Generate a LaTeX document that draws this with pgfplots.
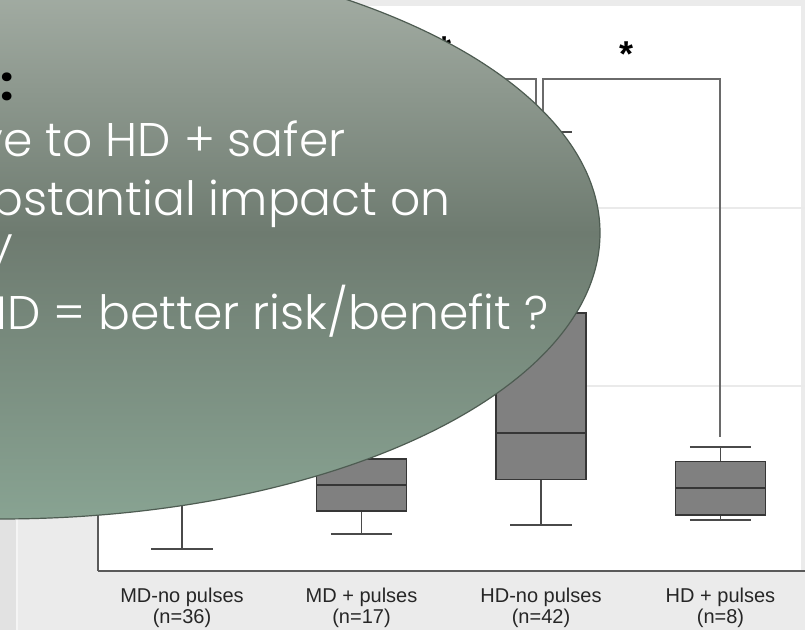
\documentclass[border=0pt]{standalone}
\usepackage{pgfplots}
\pgfplotsset{compat=1.18}
\usepgfplotslibrary{statistics}
\usepackage{fontspec}
\setmainfont{Liberation Sans}
\newfontfamily\slidefont{Poppins Light}
\newfontfamily\slidebold{Poppins}

\definecolor{pagegray}{HTML}{EBEBEB}
\definecolor{stripgray}{HTML}{E2E2E2}
\definecolor{gridgray}{HTML}{EAEAEA}
\definecolor{axisgray}{HTML}{5A5A5A}
\definecolor{boxfill}{HTML}{808080}
\definecolor{boxedge}{HTML}{363636}
\definecolor{whiskergray}{HTML}{4A4A4A}
\definecolor{bracketgray}{HTML}{6A6A6A}
\definecolor{labelgray}{HTML}{262626}
\definecolor{ellTop}{HTML}{ACB5AC}
\definecolor{ellMid}{HTML}{6E7B70}
\definecolor{ellBot}{HTML}{88A392}
\definecolor{ellEdge}{HTML}{4E5C52}

\begin{document}
\begin{tikzpicture}
% the whole slide is 805 x 630 px at 0.5pt per px
\clip (0pt,0pt) rectangle (402.5pt,315pt);
\begin{scope}[x=0.5pt,y=0.5pt]
\fill[pagegray] (0,0) rectangle (805,630);
\fill[stripgray] (0,0) rectangle (16,630);
\fill[white!96!black] (16,0) rectangle (18,630);
\fill[white] (98,59) rectangle (801,624);
\end{scope}

\begin{axis}[
  at={(49pt,29.5pt)}, anchor=south west,
  scale only axis, width=353.5pt, height=282.5pt,
  xmin=0.532, xmax=4.4708, ymin=0, ymax=5.65,
  axis x line*=bottom, axis y line*=left,
  axis line style={draw=axisgray, line width=0.9pt, -},
  xtick={1,2,3,4},
  xticklabels={{MD-no pulses\\(n=36)},{MD + pulses\\(n=17)},{HD-no pulses\\(n=42)},{HD + pulses\\(n=8)}},
  xticklabel style={align=center, text=labelgray,
    font=\fontsize{10}{10.6}\selectfont, yshift=-5pt},
  ytick={1.85,3.63}, yticklabels={},
  major tick length=0pt,
  ymajorgrids, grid style={gridgray, line width=0.6pt},
  boxplot/draw direction=y,
  boxplot/box extend=0.50,
  boxplot/whisker extend=0.34,
  boxplot/every box/.style={fill=boxfill, draw=boxedge, line width=0.75pt},
  boxplot/every median/.style={draw=boxedge, line width=1.2pt},
  boxplot/every whisker/.style={draw=whiskergray, line width=0.75pt},
  clip=false,
]
% MD-no pulses
\addplot[draw=whiskergray, mark=none, boxplot prepared={draw position=1,
  lower whisker=0.22, lower quartile=0.81, median=1.16,
  upper quartile=1.66, upper whisker=2.71}] coordinates {};
% MD + pulses
\addplot[draw=whiskergray, mark=none, boxplot prepared={draw position=2,
  lower whisker=0.37, lower quartile=0.60, median=0.86,
  upper quartile=1.12, upper whisker=2.41}] coordinates {};
% HD-no pulses
\addplot[draw=whiskergray, mark=none, boxplot prepared={draw position=3,
  lower whisker=0.46, lower quartile=0.915, median=1.38,
  upper quartile=2.58, upper whisker=4.39}] coordinates {};
% HD + pulses
\addplot[draw=whiskergray, mark=none, boxplot prepared={draw position=4,
  lower whisker=0.51, lower quartile=0.56, median=0.83,
  upper quartile=1.093, upper whisker=1.24}] coordinates {};

% significance brackets
\addplot[bracketgray, line width=0.75pt, mark=none]
  coordinates {(1.975,2.71) (1.975,4.92) (2.972,4.92) (2.972,4.46)};
\addplot[bracketgray, line width=0.75pt, mark=none]
  coordinates {(3.011,4.46) (3.011,4.92) (3.997,4.92) (3.997,1.34)};
\node[font=\fontsize{18}{18}\selectfont\bfseries, inner sep=0pt] at (axis cs:2.465,5.22) {*};
\node[font=\fontsize{18}{18}\selectfont\bfseries, inner sep=0pt] at (axis cs:3.479,5.17) {*};
\end{axis}

% callout ellipse with its text
\begin{scope}[x=0.5pt,y=0.5pt]
\shadedraw[top color=ellTop, bottom color=ellBot, middle color=ellMid,
  draw=ellEdge, line width=0.6pt] (0,397) ellipse [x radius=600, y radius=286];
\begin{scope}[every node/.style={inner sep=0pt, font=\slidefont\fontsize{23.6}{28}\selectfont}]
\node[anchor=base, text=black, font=\slidebold\bfseries\fontsize{23.6}{28}\selectfont] at (7,529) {:};
\node[anchor=base east, text=white] at (346,473) {ve to HD + safer};
\node[anchor=base east, text=white] at (451,414) {bstantial impact on};
\node[anchor=base east, text=white] at (14,369) {y};
\node[anchor=base east, text=white] at (549,300) {MD = better risk/benefit ?};
\end{scope}
\end{scope}
\end{tikzpicture}
\end{document}
